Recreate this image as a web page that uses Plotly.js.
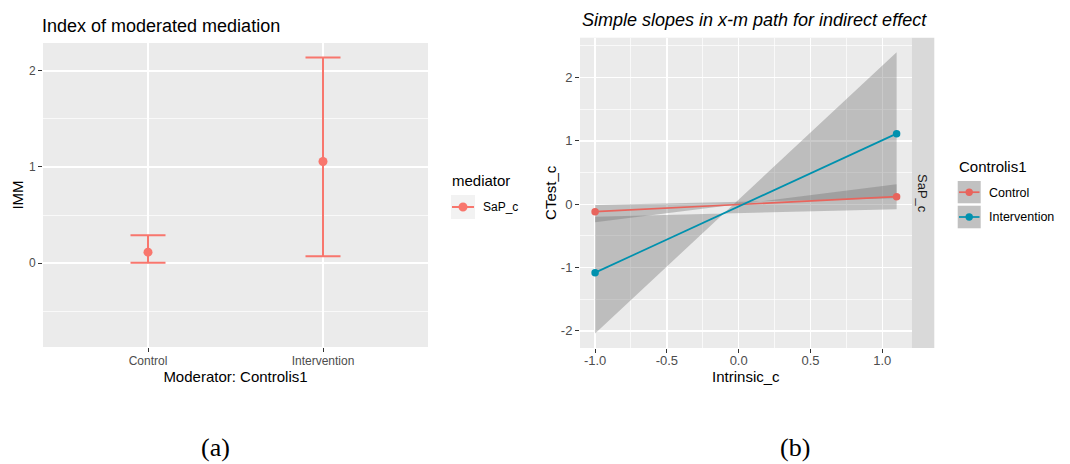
<!DOCTYPE html>
<html>
<head>
<meta charset="utf-8">
<script src="https://cdn.plot.ly/plotly-3.0.1.min.js"></script>
<style>
html,body{margin:0;padding:0;background:#fff;}
#chart{width:1070px;height:464px;}
</style>
</head>
<body>
<div id="chart"></div>
<script>
// ---------- Data: panel (a) Index of moderated mediation ----------
var moderatorCategories = ['Control', 'Intervention'];
var immEstimate = [0.114, 1.057];
var immLower = [0.003, 0.07];
var immUpper = [0.29, 2.14];
var mediatorName = 'SaP_c';

// ---------- Data: panel (b) simple slopes ----------
var intrinsicX = [-1.0, 1.1];
var controlSlope = [-0.117, 0.12];
var interventionSlope = [-1.08, 1.115];
// confidence band edges (each edge is a line over intrinsicX)
var controlBandEdgeA = [-0.284, 0.316];
var controlBandEdgeB = [-0.011, 0.095];
var interventionBandEdgeA = [-2.04, 2.40];
var interventionBandEdgeB = [-0.196, -0.08];
var groupNames = ['Control', 'Intervention'];

var yTicksA = [0, 1, 2];
var xTicksB = [-1, -0.5, 0, 0.5, 1];
var xTickTextB = ['-1.0', '-0.5', '0.0', '0.5', '1.0'];
var yTicksB = [-2, -1, 0, 1, 2];
var yTickTextB = ['-2', '-1', '0', '1', '2'];

// ---------- Styling ----------
var FONT = 'Liberation Sans, Arial, Helvetica, sans-serif';
var RED_A = '#F8766D';
var RED_B = '#E8645C';
var BLUE_B = '#0091AE';
var BAND = 'rgba(110,110,110,0.37)';
var W = 1070, H = 464;
function px(x){ return x / W; }
function py(y){ return 1 - y / H; }

function band(edgeA, edgeB){
  return {
    x: intrinsicX.concat(intrinsicX.slice().reverse()),
    y: edgeA.concat(edgeB.slice().reverse())
  };
}

var cBand = band(controlBandEdgeA, controlBandEdgeB);
var iBand = band(interventionBandEdgeA, interventionBandEdgeB);

var traces = [
  {
    type: 'scatter', mode: 'markers', xaxis: 'x', yaxis: 'y',
    x: moderatorCategories, y: immEstimate, name: mediatorName,
    marker: {color: RED_A, size: 9},
    error_y: {
      type: 'data', symmetric: false,
      array: immUpper.map(function(u, i){ return u - immEstimate[i]; }),
      arrayminus: immLower.map(function(l, i){ return immEstimate[i] - l; }),
      color: RED_A, thickness: 2, width: 17.5
    },
    showlegend: false, hoverinfo: 'x+y'
  },
  {
    type: 'scatter', mode: 'lines', xaxis: 'x2', yaxis: 'y2',
    x: iBand.x, y: iBand.y, fill: 'toself', fillcolor: BAND,
    line: {width: 0, color: 'rgba(0,0,0,0)'}, showlegend: false, hoverinfo: 'skip'
  },
  {
    type: 'scatter', mode: 'lines', xaxis: 'x2', yaxis: 'y2',
    x: cBand.x, y: cBand.y, fill: 'toself', fillcolor: BAND,
    line: {width: 0, color: 'rgba(0,0,0,0)'}, showlegend: false, hoverinfo: 'skip'
  },
  {
    type: 'scatter', mode: 'lines+markers', xaxis: 'x2', yaxis: 'y2',
    x: intrinsicX, y: controlSlope, name: groupNames[0],
    line: {color: RED_B, width: 1.7}, marker: {color: RED_B, size: 7.5},
    showlegend: false
  },
  {
    type: 'scatter', mode: 'lines+markers', xaxis: 'x2', yaxis: 'y2',
    x: intrinsicX, y: interventionSlope, name: groupNames[1],
    line: {color: BLUE_B, width: 1.7}, marker: {color: BLUE_B, size: 7.5},
    showlegend: false
  }
];

var tickFontA = {family: FONT, size: 12, color: '#4D4D4D'};
var tickFontB = {family: FONT, size: 13, color: '#4D4D4D'};

var shapes = [
  // facet strip
  {type: 'rect', xref: 'paper', yref: 'paper', x0: px(911.7), x1: px(934.3), y0: py(348), y1: py(37.7),
   fillcolor: '#D9D9D9', line: {width: 0}, layer: 'below'},
  // legend (a)
  {type: 'rect', xref: 'paper', yref: 'paper', x0: px(451), x1: px(475), y0: py(219), y1: py(195),
   fillcolor: '#F2F2F2', line: {width: 0}},
  {type: 'line', xref: 'paper', yref: 'paper', x0: px(452), x1: px(474), y0: py(207), y1: py(207),
   line: {color: RED_A, width: 2}},
  {type: 'circle', xref: 'paper', yref: 'paper', x0: px(458.5), x1: px(467.5), y0: py(211.5), y1: py(202.5),
   fillcolor: RED_A, line: {width: 0}},
  // legend (b)
  {type: 'rect', xref: 'paper', yref: 'paper', x0: px(957.7), x1: px(980.7), y0: py(203.3), y1: py(181),
   fillcolor: '#C1C1C1', line: {width: 0}},
  {type: 'rect', xref: 'paper', yref: 'paper', x0: px(957.7), x1: px(980.7), y0: py(228.3), y1: py(205.7),
   fillcolor: '#C1C1C1', line: {width: 0}},
  {type: 'line', xref: 'paper', yref: 'paper', x0: px(959), x1: px(979.5), y0: py(192.2), y1: py(192.2),
   line: {color: RED_B, width: 1.7}},
  {type: 'circle', xref: 'paper', yref: 'paper', x0: px(965.5), x1: px(972.9), y0: py(195.9), y1: py(188.5),
   fillcolor: RED_B, line: {width: 0}},
  {type: 'line', xref: 'paper', yref: 'paper', x0: px(959), x1: px(979.5), y0: py(217), y1: py(217),
   line: {color: BLUE_B, width: 1.7}},
  {type: 'circle', xref: 'paper', yref: 'paper', x0: px(965.5), x1: px(972.9), y0: py(220.7), y1: py(213.3),
   fillcolor: BLUE_B, line: {width: 0}}
];

function ann(text, x, y, opts){
  var a = {text: text, xref: 'paper', yref: 'paper', x: px(x), y: py(y), showarrow: false,
           xanchor: 'left', yanchor: 'middle', font: {family: FONT, size: 12, color: '#000'}};
  for (var k in opts) a[k] = opts[k];
  return a;
}

var annotations = [
  ann('<i>Simple slopes in x-m path for indirect effect</i>', 754, 20,
      {xanchor: 'center', font: {family: FONT, size: 18, color: '#000'}}),
  ann(mediatorName, 923, 193, {xanchor: 'center', textangle: 90, font: {family: FONT, size: 13, color: '#1A1A1A'}}),
  ann('mediator', 450, 180, {font: {family: FONT, size: 15, color: '#000'}}),
  ann(mediatorName, 481, 207, {font: {family: FONT, size: 12, color: '#000'}}),
  ann('Controlis1', 957, 166, {font: {family: FONT, size: 15, color: '#000'}}),
  ann(groupNames[0], 987, 192.7, {font: {family: FONT, size: 12.5, color: '#000'}}),
  ann(groupNames[1], 987, 217.3, {font: {family: FONT, size: 12.5, color: '#000'}}),
  ann('(a)', 215, 447, {xanchor: 'center', font: {family: 'Liberation Serif, Times New Roman, serif', size: 26, color: '#000'}}),
  ann('(b)', 795, 447, {xanchor: 'center', font: {family: 'Liberation Serif, Times New Roman, serif', size: 26, color: '#000'}})
];

var layout = {
  width: W, height: H, autosize: false,
  margin: {l: 0, r: 0, t: 0, b: 0, pad: 0},
  paper_bgcolor: '#FFFFFF', plot_bgcolor: '#EBEBEB',
  font: {family: FONT, color: '#000'},
  showlegend: false,
  title: {text: 'Index of moderated mediation', x: px(42), xref: 'paper', xanchor: 'left',
          y: py(26), yref: 'paper', yanchor: 'middle', font: {family: FONT, size: 18, color: '#000'}},
  xaxis: {
    domain: [px(43), px(428)], anchor: 'y', type: 'category', range: [-0.6, 1.6],
    showgrid: true, gridcolor: '#FFFFFF', gridwidth: 1.3, zeroline: false, showline: false,
    ticks: 'outside', ticklen: 4, tickwidth: 1, tickcolor: '#333333', tickfont: tickFontA,
    ticklabelstandoff: -1,
    title: {text: 'Moderator: Controlis1', font: {family: FONT, size: 15, color: '#000'}, standoff: 0},
    fixedrange: true
  },
  yaxis: {
    domain: [py(347), py(43)], anchor: 'x', range: [-0.873, 2.29],
    tickvals: yTicksA, ticktext: yTicksA.map(String),
    showgrid: true, gridcolor: '#FFFFFF', gridwidth: 1.3, zeroline: false, showline: false,
    ticks: 'outside', ticklen: 4, tickwidth: 1, tickcolor: '#333333', tickfont: tickFontA,
    minor: {dtick: 0.5, tick0: 0, showgrid: true, gridcolor: '#FFFFFF', gridwidth: 0.7, ticks: ''},
    title: {text: 'IMM', font: {family: FONT, size: 15, color: '#000'}, standoff: 1},
    fixedrange: true
  },
  xaxis2: {
    domain: [px(580), px(911.7)], anchor: 'y2', range: [-1.105, 1.205],
    tickvals: xTicksB, ticktext: xTickTextB,
    showgrid: true, gridcolor: '#FFFFFF', gridwidth: 1.3, zeroline: false, showline: false,
    ticks: 'outside', ticklen: 4, tickwidth: 1, tickcolor: '#333333', tickfont: tickFontB,
    ticklabelstandoff: -4,
    minor: {dtick: 0.25, tick0: 0, showgrid: true, gridcolor: '#FFFFFF', gridwidth: 0.7, ticks: ''},
    title: {text: 'Intrinsic_c', font: {family: FONT, size: 15, color: '#000'}, standoff: 0},
    fixedrange: true
  },
  yaxis2: {
    domain: [py(348), py(37.7)], anchor: 'x2', range: [-2.27, 2.63],
    tickvals: yTicksB, ticktext: yTickTextB,
    showgrid: true, gridcolor: '#FFFFFF', gridwidth: 1.3, zeroline: false, showline: false,
    ticks: 'outside', ticklen: 4, tickwidth: 1, tickcolor: '#333333', tickfont: tickFontB,
    minor: {dtick: 0.5, tick0: 0, showgrid: true, gridcolor: '#FFFFFF', gridwidth: 0.7, ticks: ''},
    title: {text: 'CTest_c', font: {family: FONT, size: 15, color: '#000'}, standoff: 0},
    fixedrange: true
  },
  shapes: shapes,
  annotations: annotations
};

Plotly.newPlot('chart', traces, layout, {displayModeBar: false, staticPlot: true});
</script>
</body>
</html>
